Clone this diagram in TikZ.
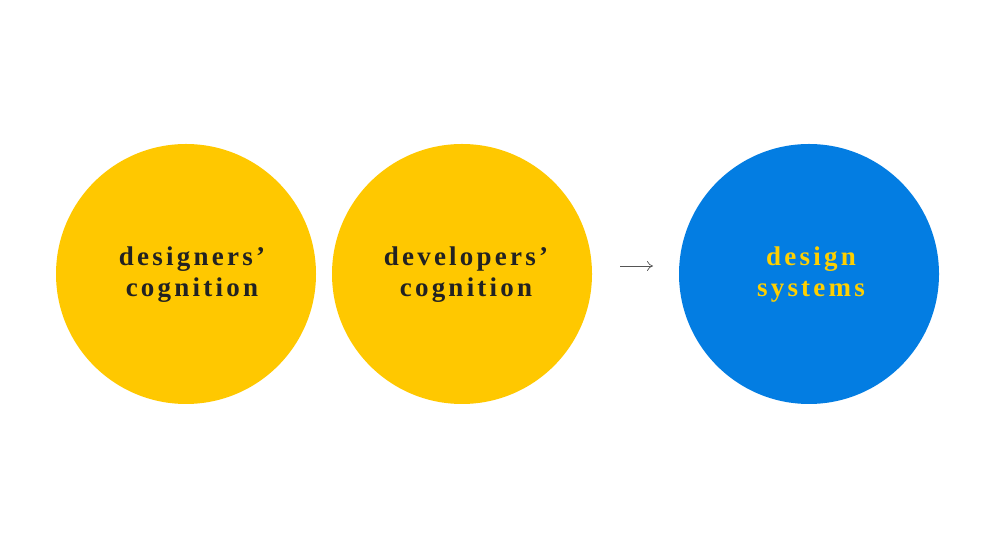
\documentclass[tikz,border=0pt]{standalone}
\usepackage{fontspec}
\setmainfont{Liberation Serif}
\newfontfamily\labelfont[LetterSpace=12]{Liberation Serif}
\usetikzlibrary{arrows.meta}
\definecolor{sunyellow}{HTML}{FFC800}
\definecolor{skyblue}{HTML}{037DE2}
\definecolor{textdark}{HTML}{222222}
\definecolor{textyellow}{HTML}{FFD000}
\definecolor{arrowgray}{HTML}{555555}
\tikzset{
  bubble/.style={circle, minimum size=260pt, inner sep=0pt, draw=none},
  yellowbubble/.style={bubble, fill=sunyellow},
  bluebubble/.style={bubble, fill=skyblue},
  bubbletext/.style={align=center, font=\labelfont\bfseries\fontsize{27}{31}\selectfont},
  flowarrow/.style={draw=arrowgray, line width=0.7pt, -{To[length=6pt,width=10pt]}}
}
\begin{document}
\begin{tikzpicture}[x=1pt,y=1pt]
  \useasboundingbox (0,0) rectangle (1000,548);
  \node[yellowbubble] (c1) at (186,274) {};
  \node[yellowbubble] (c2) at (462,274) {};
  \node[bluebubble] (c3) at (809,274) {};
  \node[bubbletext, text=textdark] (t1) at (192,273) {designers’\\cognition};
  \node[bubbletext, text=textdark] (t2) at (466,273) {developers’\\cognition};
  \node[bubbletext, text=textyellow] (t3) at (811,273) {design\\systems};
  \coordinate (a1) at (620,282);
  \coordinate (a2) at (653,282);
  \draw[flowarrow] (a1) -- (a2);
\end{tikzpicture}
\end{document}
